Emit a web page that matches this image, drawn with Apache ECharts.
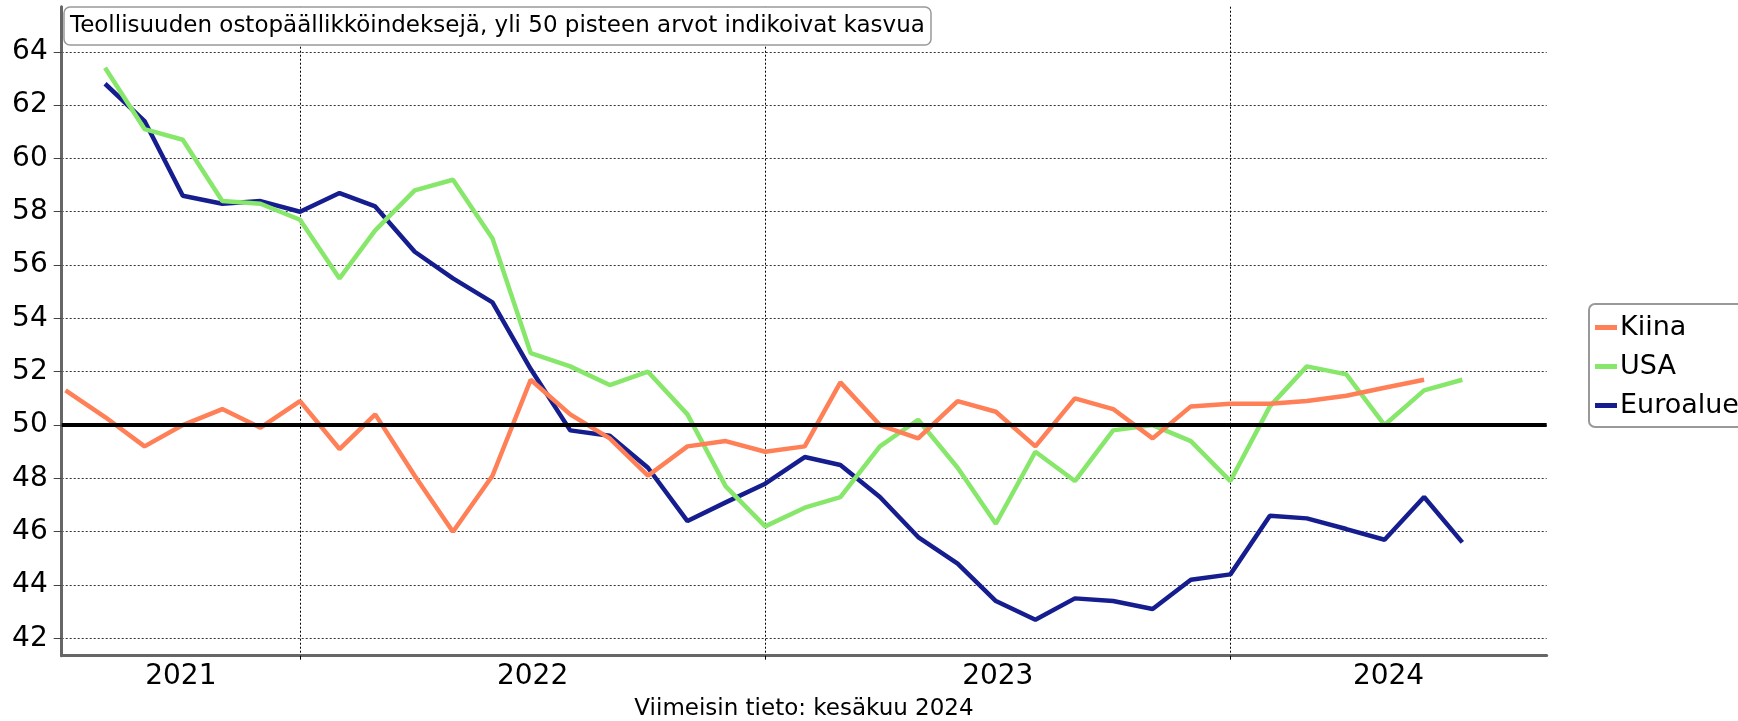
<!DOCTYPE html>
<html>
<head>
<meta charset="utf-8">
<script src="https://cdn.jsdelivr.net/npm/echarts@6/dist/echarts.min.js"></script>
<style>
html,body{margin:0;padding:0;background:#fff;}
#chart{width:1738px;height:721px;}
</style>
</head>
<body>
<div id="chart"></div>
<script>
// ---- data ----
const months = [
  '2021-06','2021-07','2021-08','2021-09','2021-10','2021-11','2021-12',
  '2022-01','2022-02','2022-03','2022-04','2022-05','2022-06','2022-07','2022-08','2022-09','2022-10','2022-11','2022-12',
  '2023-01','2023-02','2023-03','2023-04','2023-05','2023-06','2023-07','2023-08','2023-09','2023-10','2023-11','2023-12',
  '2024-01','2024-02','2024-03','2024-04','2024-05','2024-06'
];
const kiina = [
  51.3,50.3,49.2,50.0,50.6,49.9,50.9,
  49.1,50.4,48.1,46.0,48.1,51.7,50.4,49.5,48.1,49.2,49.4,49.0,
  49.2,51.6,50.0,49.5,50.9,50.5,49.2,51.0,50.6,49.5,50.7,50.8,
  50.8,50.9,51.1,51.4,51.7,null
];
const usa = [
  null,63.4,61.1,60.7,58.4,58.3,57.7,
  55.5,57.3,58.8,59.2,57.0,52.7,52.2,51.5,52.0,50.4,47.7,46.2,
  46.9,47.3,49.2,50.2,48.4,46.3,49.0,47.9,49.8,50.0,49.4,47.9,
  50.7,52.2,51.9,50.0,51.3,51.7
];
const euro = [
  null,62.8,61.4,58.6,58.3,58.4,58.0,
  58.7,58.2,56.5,55.5,54.6,52.1,49.8,49.6,48.4,46.4,47.1,47.8,
  48.8,48.5,47.3,45.8,44.8,43.4,42.7,43.5,43.4,43.1,44.2,44.4,
  46.6,46.5,46.1,45.7,47.3,45.6
];
const seriesNames = ['Kiina','USA','Euroalue'];
const yTicks = [42,44,46,48,50,52,54,56,58,60,62,64];
const yearLabels = ['2021','2022','2023','2024'];
const threshold = 50;
const titleText = 'Teollisuuden ostopäällikköindeksejä, yli 50 pisteen arvot indikoivat kasvua';
const footerText = 'Viimeisin tieto: kesäkuu 2024';

// ---- axis extents (time in ms) ----
const X_MIN = Date.UTC(2021, 5, 28);
const X_MAX = Date.UTC(2024, 8, 5, 5);
const Y_MIN = 41.35, Y_MAX = 65.69;

// each month's value is plotted at the end of that month
function monthPos(ym){ const p = ym.split('-'); return Date.UTC(+p[0], +p[1], 1); }
function pairs(vals){ return months.map((m,i)=>[monthPos(m), vals[i]]); }

const yearStarts = yearLabels.slice(1).map(y => Date.UTC(+y,0,1));
const yearMids = yearLabels.map(y => {
  const s = Math.max(X_MIN, Date.UTC(+y,0,1));
  const e = Math.min(X_MAX, Date.UTC(+y+1,0,1));
  return (s+e)/2;
});

const FONT = 'DejaVu Sans';
const colors = { Kiina:'#FF7F57', USA:'#86E76B', Euroalue:'#161E8F' };
const LW = 4.5;

const chart = echarts.init(document.getElementById('chart'), null, {renderer:'canvas'});
chart.setOption({
  animation: false,
  backgroundColor: '#fff',
  textStyle: { fontFamily: FONT },
  title: [{
    text: titleText,
    left: 64, top: 7,
    backgroundColor: '#fff',
    borderColor: '#999', borderWidth: 1.5, borderRadius: 6,
    padding: [5, 6, 5, 6],
    textStyle: { fontFamily: FONT, fontSize: 23, fontWeight: 'normal', color: '#000', lineHeight: 28 }
  }],
  graphic: [{
    type: 'text', x: 804, y: 709,
    style: { text: footerText, textAlign: 'center', textVerticalAlign: 'middle', fontFamily: FONT, fontSize: 23, fill: '#000' }
  }],
  legend: {
    data: seriesNames,
    orient: 'vertical',
    left: 1589, top: 304,
    icon: 'rect', itemWidth: 22, itemHeight: 5, itemGap: 8,
    backgroundColor: '#fff',
    borderColor: '#999', borderWidth: 2, borderRadius: 6,
    padding: [8, 10, 6, 6],
    textStyle: { fontFamily: FONT, fontSize: 27, color: '#000', lineHeight: 31, padding: [0,0,0,-2] }
  },
  grid: { left: 61.7, right: 191.3, top: 6.7, bottom: 65.3, containLabel: false },
  xAxis: {
    type: 'value', min: X_MIN, max: X_MAX,
    axisLine: { show: true, onZero: false, lineStyle: { color: '#666', width: 3 } },
    axisTick: { show: true, customValues: yearStarts, length: 4, lineStyle: { color: '#000' } },
    splitLine: { show: true, lineStyle: { color: '#000', width: 1, type: [2, 2] } },
    axisLabel: {
      customValues: yearMids, margin: 7,
      fontFamily: FONT, fontSize: 28, color: '#000',
      formatter: (v) => { const i = yearMids.findIndex(m => Math.abs(m - v) < 86400000); return i >= 0 ? yearLabels[i] : ''; }
    }
  },
  yAxis: {
    type: 'value', min: Y_MIN, max: Y_MAX,
    axisLine: { show: true, onZero: false, lineStyle: { color: '#666', width: 3 } },
    axisTick: { show: true, customValues: yTicks, length: 8, lineStyle: { color: '#444' } },
    splitLine: { show: true, lineStyle: { color: '#333', width: 1, type: [2, 2] } },
    axisLabel: { customValues: yTicks, margin: 14, fontFamily: FONT, fontSize: 28, color: '#000' }
  },
  series: [
    { name: 'Euroalue', type: 'line', data: pairs(euro), showSymbol: false, symbol: 'none',
      lineStyle: { width: LW, color: colors.Euroalue }, itemStyle: { color: colors.Euroalue },
      z: 2,
      markLine: { silent: true, symbol: 'none', label: { show: false },
        lineStyle: { color: '#000', width: 4, type: 'solid' },
        emphasis: { disabled: true },
        data: [{ yAxis: threshold }] } },
    { name: 'USA', type: 'line', data: pairs(usa), showSymbol: false, symbol: 'none',
      lineStyle: { width: LW, color: colors.USA }, itemStyle: { color: colors.USA }, z: 3 },
    { name: 'Kiina', type: 'line', data: pairs(kiina), showSymbol: false, symbol: 'none',
      lineStyle: { width: LW, color: colors.Kiina }, itemStyle: { color: colors.Kiina }, z: 4 }
  ]
});
</script>
</body>
</html>
